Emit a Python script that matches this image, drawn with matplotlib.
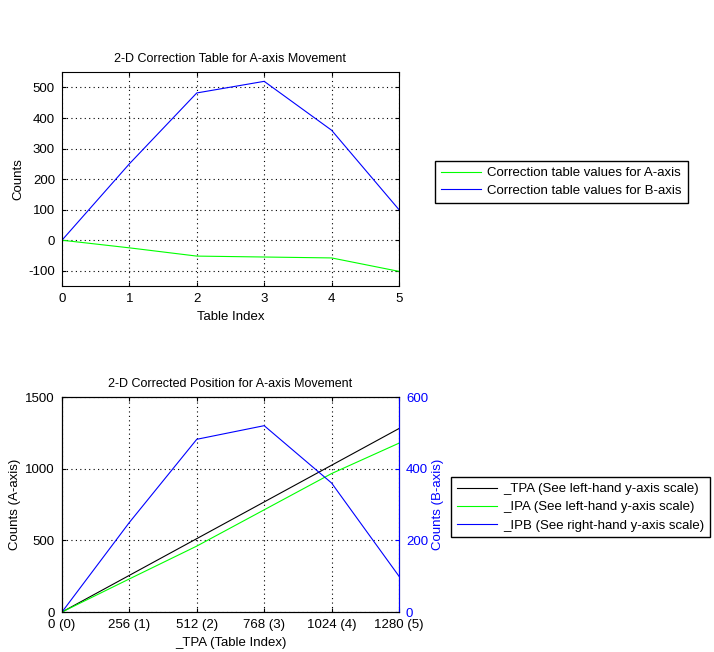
import numpy as np
import matplotlib.pyplot as plt

plt.rcParams['font.family'] = ['Liberation Sans', 'DejaVu Sans']
plt.rcParams['font.size'] = 9.5
plt.rcParams['axes.unicode_minus'] = False

# data
table_index = [0, 1, 2, 3, 4, 5]
corr_a = [0, -25, -52, -55, -58, -102]
corr_b = [0, 250, 482, 520, 360, 100]

tpa = [0, 256, 512, 768, 1024, 1280]
ipa = [0, 231, 460, 713, 966, 1178]
ipb = [0, 250, 482, 520, 360, 100]
tpa_labels = ["0 (0)", "256 (1)", "512 (2)", "768 (3)", "1024 (4)", "1280 (5)"]

fig = plt.figure(figsize=(7.14, 6.52), dpi=100)

# top plot
ax1 = fig.add_axes([0.0868, 0.5613, 0.472, 0.328])
l1, = ax1.plot(table_index, corr_a, color=(0, 1, 0), lw=0.8, label="Correction table values for A-axis")
l2, = ax1.plot(table_index, corr_b, color=(0, 0, 1), lw=0.8, label="Correction table values for B-axis")
ax1.set_xlim(0, 5)
ax1.set_ylim(-150, 550)
ax1.set_yticks([-100, 0, 100, 200, 300, 400, 500])
ax1.grid(True, color='black', linestyle=(0, (1, 3)), linewidth=0.8)
ax1.set_title("2-D Correction Table for A-axis Movement", fontsize=9, pad=7)
ax1.set_xlabel("Table Index", labelpad=4)
ax1.set_ylabel("Counts", labelpad=3)
ax1.tick_params(direction='in', length=3, top=True, right=True, pad=5)
fig.legend(handles=[l1, l2], loc='upper left', bbox_to_anchor=(435/714, 1 - 161/652),
           borderaxespad=0, frameon=True, fancybox=False, edgecolor='black', framealpha=1,
           borderpad=0.45, handlelength=3.0, handletextpad=0.5, labelspacing=0.4)

# bottom plot
ax2 = fig.add_axes([0.0868, 0.0613, 0.472, 0.3298])
ax3 = ax2.twinx()
l3, = ax2.plot(tpa, tpa, color='black', lw=0.8, label="_TPA (See left-hand y-axis scale)")
l4, = ax2.plot(tpa, ipa, color=(0, 1, 0), lw=0.8, label="_IPA (See left-hand y-axis scale)")
l5, = ax3.plot(tpa, ipb, color=(0, 0, 1), lw=0.8, label="_IPB (See right-hand y-axis scale)")
ax2.set_xlim(0, 1280)
ax2.set_ylim(0, 1500)
ax3.set_ylim(0, 600)
ax2.set_xticks(tpa)
ax2.set_xticklabels(tpa_labels)
ax2.set_yticks([0, 500, 1000, 1500])
ax3.set_yticks([0, 200, 400, 600])
ax2.grid(True, color='black', linestyle=(0, (1, 3)), linewidth=0.8)
ax2.set_title("2-D Corrected Position for A-axis Movement", fontsize=9, pad=7)
ax2.set_xlabel("_TPA (Table Index)", labelpad=4)
ax2.set_ylabel("Counts (A-axis)", labelpad=3)
ax3.set_ylabel("Counts (B-axis)", color='blue', labelpad=3)
ax2.tick_params(direction='in', length=3, top=True, pad=5)
ax3.tick_params(direction='in', length=3, colors='blue', labelcolor='blue', pad=5)
ax3.spines['right'].set_color('blue')
fig.legend(handles=[l3, l4, l5], loc='upper left', bbox_to_anchor=(451/714, 1 - 477/652),
           borderaxespad=0, frameon=True, fancybox=False, edgecolor='black', framealpha=1,
           borderpad=0.45, handlelength=3.0, handletextpad=0.5, labelspacing=0.45)

fig.savefig("out.png", dpi=100)
